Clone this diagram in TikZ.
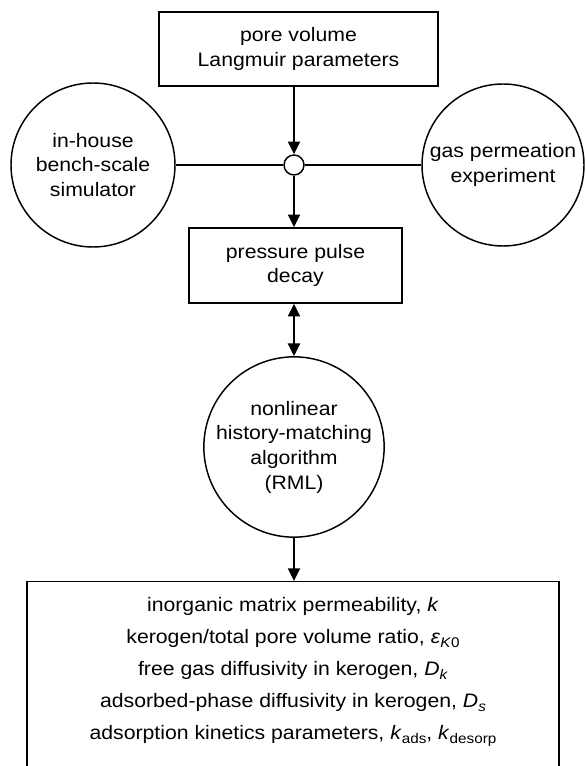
\documentclass[tikz,border=0pt]{standalone}
\usepackage{fontspec}
\setmainfont{Liberation Sans}[FakeStretch=1.09]
\usetikzlibrary{arrows.meta}
\newcommand\lowsub[1]{\raisebox{-0.45ex}{\fontsize{10.5pt}{10.5pt}\selectfont #1}}
\begin{document}
\begin{tikzpicture}[x=0.75pt,y=-0.75pt,
  every node/.style={font=\fontsize{14.6pt}{18.5pt}\selectfont, align=center, inner sep=0pt, text=black},
  boxnode/.style={draw=black, line width=1.1pt},
  roundnode/.style={draw=black, circle, line width=1.1pt},
  flow/.style={line width=1.6pt, -{Triangle[length=9.5pt,width=9pt]}},
  dflow/.style={line width=1.6pt, {Triangle[length=9.5pt,width=9pt]}-{Triangle[length=9.5pt,width=9pt]}},
  link/.style={line width=1pt}]
\path[use as bounding box, clip] (0,0) rectangle (585,766);
\fill[white] (0,0) rectangle (585,766);

\node[boxnode, minimum width=209.25pt, minimum height=55.5pt] (top) at (298.5,49) {pore volume\\Langmuir parameters};
\node[roundnode, minimum size=123pt] (sim) at (93,165) {in-house\\bench-scale\\simulator};
\node[roundnode, minimum size=121.5pt] (exp) at (503,165) {gas permeation\\experiment};
\node[roundnode, fill=white, minimum size=15pt] (junc) at (294,165) {};
\node[boxnode, minimum width=159.75pt, minimum height=56.25pt] (press) at (295.5,265.5) {pressure pulse\\decay};
\node[roundnode, minimum size=123pt] (nl) at (294,447) {nonlinear\\history-matching\\algorithm\\(RML)};
\node[boxnode, anchor=north, minimum width=399pt, minimum height=150pt] (res) at (293,581) {};
\node[font=\fontsize{14.6pt}{24pt}\selectfont] (restext) at (293,672) {inorganic matrix permeability, \textit{k}\\
kerogen/total pore volume ratio, \textit{ε}\lowsub{\textit{K}0}\\
free gas diffusivity in kerogen, \textit{D}\lowsub{\textit{k}}\\
adsorbed-phase diffusivity in kerogen, \textit{D}\lowsub{\textit{s}}\\
adsorption kinetics parameters, \textit{k}\lowsub{ads}, \textit{k}\lowsub{desorp}};

\draw[link] (sim.east) -- (junc.west);
\draw[link] (junc.east) -- (exp.west);
\draw[flow] (top.south -| junc) -- (junc.north);
\draw[flow] (junc.south) -- (junc.south |- press.north);
\draw[dflow] (press.south -| nl) -- (nl.north);
\draw[flow] (nl.south) -- (nl.south |- res.north);
\end{tikzpicture}
\end{document}
